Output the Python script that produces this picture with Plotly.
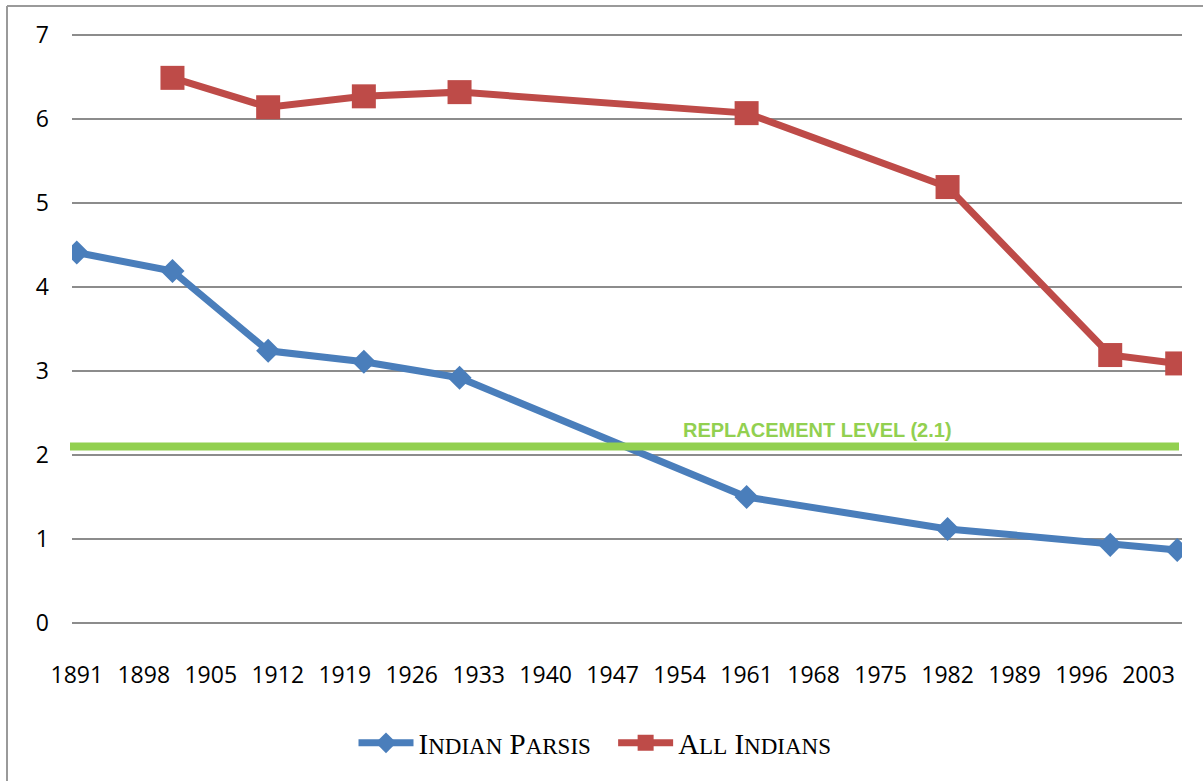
import plotly.graph_objects as go

# ---- data ----
years = [1891, 1901, 1911, 1921, 1931, 1961, 1982, 1999, 2006]
parsis = [4.41, 4.19, 3.24, 3.11, 2.92, 1.50, 1.12, 0.93, 0.87]
all_years = [1901, 1911, 1921, 1931, 1961, 1982, 1999, 2006]
all_indians = [6.49, 6.14, 6.27, 6.32, 6.07, 5.19, 3.19, 3.09]
replacement = 2.1
replacement_label = "REPLACEMENT LEVEL (2.1)"
x_tick0, x_dtick = 1891, 7

BLUE = "#4A7EBB"
RED = "#BE4B48"
GREEN = "#92D050"

W, H = 1203, 781
L, R, T, B = 72, 21, 33, 156
pw, ph = W - L - R, H - T - B

def px2x(px):
    return (px - L) / pw

def py2y(py):
    return (H - B - py) / ph

SM = "<span style='font-size:23px'>"

fig = go.Figure()

fig.add_trace(go.Scatter(
    x=years, y=parsis, mode="lines+markers",
    name="I" + SM + "NDIAN</span> P" + SM + "ARSIS&nbsp;&nbsp;&nbsp;</span>",
    line=dict(color=BLUE, width=7),
    marker=dict(symbol="diamond", size=18.5, color=BLUE),
))
fig.add_trace(go.Scatter(
    x=all_years, y=all_indians, mode="lines+markers",
    name="A" + SM + "LL</span> I" + SM + "NDIANS</span>",
    line=dict(color=RED, width=7),
    marker=dict(symbol="square", size=24, color=RED),
))

# replacement level line
fig.add_shape(type="line", xref="paper", yref="y",
              x0=px2x(70), x1=px2x(1179), y0=replacement, y1=replacement,
              line=dict(color=GREEN, width=8), layer="above")
fig.add_annotation(xref="paper", yref="y", x=px2x(817), y=replacement,
                   xanchor="center", yanchor="bottom", yshift=4, showarrow=False,
                   text="<b>" + replacement_label + "</b>",
                   font=dict(family="Liberation Sans, Arial", size=20, color=GREEN))

# outer border (left and top visible)
fig.add_shape(type="line", xref="paper", yref="paper",
              x0=px2x(7), x1=px2x(7), y0=py2y(781), y1=py2y(6),
              line=dict(color="#9a9a9a", width=2))
fig.add_shape(type="line", xref="paper", yref="paper",
              x0=px2x(7), x1=px2x(1203), y0=py2y(6), y1=py2y(6),
              line=dict(color="#9a9a9a", width=2))

fig.update_layout(
    width=W, height=H,
    margin=dict(l=L, r=R, t=T, b=B),
    paper_bgcolor="white", plot_bgcolor="white",
    font=dict(family="Open Sans", size=23, color="black"),
    showlegend=True,
    legend=dict(orientation="h", x=px2x(595), xanchor="center",
                y=py2y(743), yanchor="middle",
                font=dict(family="Liberation Serif", size=29, color="black"),
                itemwidth=55, itemclick=False, tracegroupgap=0),
    xaxis=dict(range=[1890.5, 2006.5], tick0=x_tick0, dtick=x_dtick,
               showgrid=False, zeroline=False, showline=False,
               ticks="", ticklabelstandoff=34, automargin=False,
               tickfont=dict(family="Open Sans", size=23, color="black")),
    yaxis=dict(range=[-0.024, 7.024], tick0=0, dtick=1, showgrid=True,
               gridcolor="#8c8c8c", gridwidth=1.6, zeroline=False,
               showline=False, ticks="", ticklabelstandoff=22, automargin=False,
               tickfont=dict(family="Open Sans", size=23, color="black")),
)

fig.write_html("out.html", config={"displayModeBar": False},
               post_script="document.body.style.margin='0px';document.body.style.overflow='hidden';")
